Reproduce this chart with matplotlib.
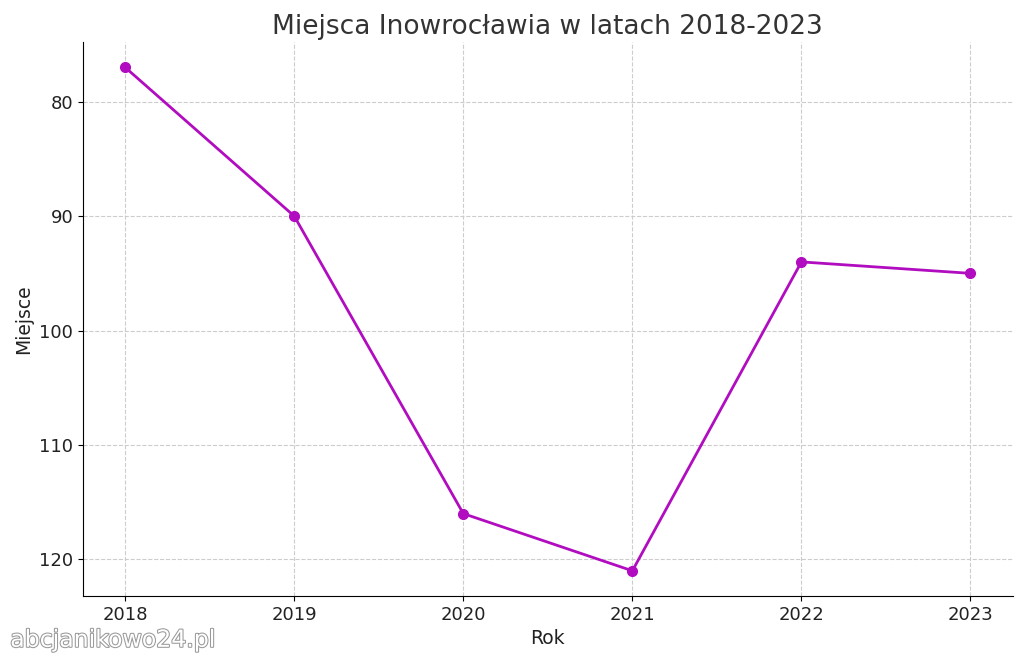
import matplotlib
matplotlib.use("Agg")
import matplotlib.pyplot as plt
import matplotlib.patheffects as pe

# dane
lata = [2018, 2019, 2020, 2021, 2022, 2023]
miejsca = [77, 90, 116, 121, 94, 95]

fig, ax = plt.subplots(figsize=(10.24, 6.6), dpi=100)
fig.subplots_adjust(left=0.081, right=0.989, top=0.936, bottom=0.097)

ax.plot(lata, miejsca, color="#b10cbf", marker="o", linewidth=2, markersize=7)
ax.invert_yaxis()

ax.set_title("Miejsca Inowrocławia w latach 2018-2023", fontsize=19, color="#333333")
ax.set_xlabel("Rok", fontsize=13.5, color="#222222")
ax.set_ylabel("Miejsce", fontsize=13.5, color="#222222")
ax.tick_params(labelsize=13, labelcolor="#222222")
ax.set_yticks([80, 90, 100, 110, 120])
ax.grid(True, linestyle="--", color="#cccccc", linewidth=0.8)
ax.spines["top"].set_visible(False)
ax.spines["right"].set_visible(False)

# znak wodny
fig.text(0.01, 0.02, "abcjanikowo24.pl", fontsize=17, color="white",
         path_effects=[pe.withStroke(linewidth=1.5, foreground="#999999")])

fig.savefig("out.png", dpi=100)
